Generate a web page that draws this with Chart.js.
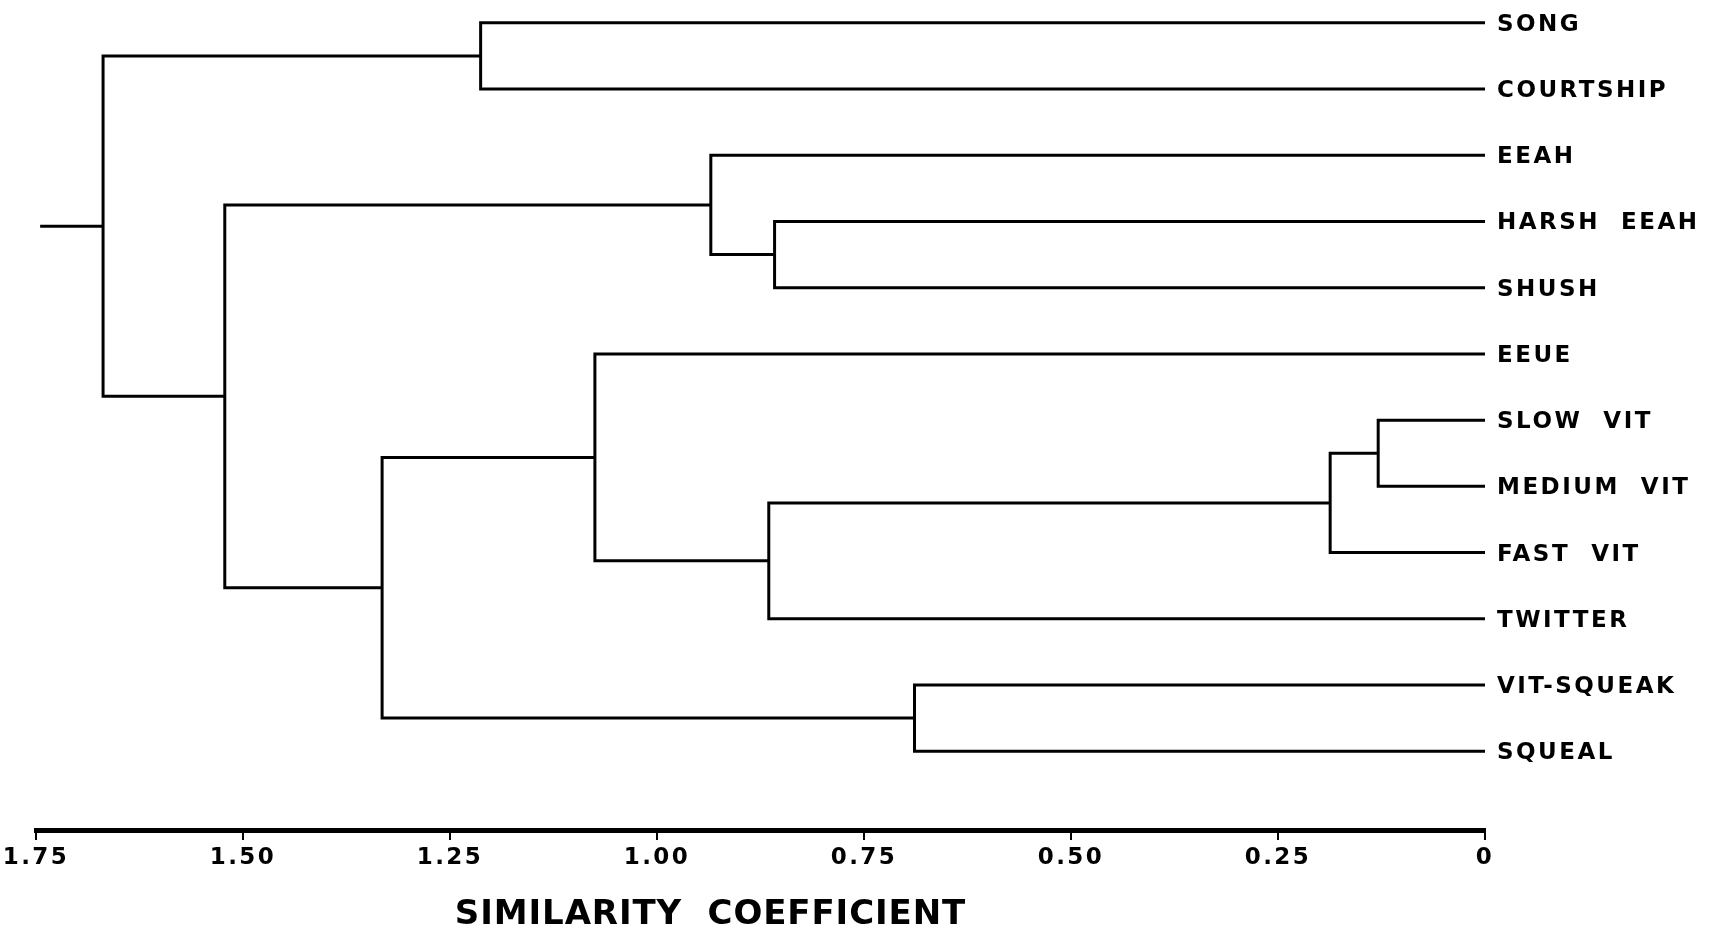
<!DOCTYPE html>
<html>
<head>
<meta charset="utf-8">
<script src="https://cdn.jsdelivr.net/npm/chart.js@4.4.1/dist/chart.umd.min.js"></script>
<style>
  html, body { margin: 0; padding: 0; background: #fff; }
</style>
</head>
<body>
<canvas id="dendro" width="1722" height="935"></canvas>
<script>
// leaves, top to bottom
const leafLabels = [
  "SONG", "COURTSHIP", "EEAH", "HARSH  EEAH", "SHUSH", "EEUE",
  "SLOW  VIT", "MEDIUM  VIT", "FAST  VIT", "TWITTER", "VIT-SQUEAK", "SQUEAL"
];

// merges, linkage style: ids 0-11 are leaves, merge i creates id 12 + i
const mergeLeft = [6, 12, 10, 3, 13, 2, 5, 0, 18, 17, 19];
const mergeRight = [7, 8, 11, 4, 9, 15, 16, 1, 14, 20, 21];
const mergeHeight = [0.129, 0.187, 0.689, 0.858, 0.865, 0.935, 1.075, 1.213, 1.332, 1.522, 1.669];
const rootStubEnd = 1.745;

const xTicks = [1.75, 1.5, 1.25, 1.0, 0.75, 0.5, 0.25, 0];
const axisTitle = "SIMILARITY  COEFFICIENT";

const nodeY = leafLabels.map((_, i) => i);
const nodeH = leafLabels.map(() => 0);

const datasets = [];
mergeHeight.forEach((h, i) => {
  const a = mergeLeft[i];
  const b = mergeRight[i];
  datasets.push({
    data: [
      { x: nodeH[a], y: nodeY[a] },
      { x: h, y: nodeY[a] },
      { x: h, y: nodeY[b] },
      { x: nodeH[b], y: nodeY[b] }
    ]
  });
  nodeY.push((nodeY[a] + nodeY[b]) / 2);
  nodeH.push(h);
});
const root = nodeY.length - 1;
datasets.push({
  data: [
    { x: nodeH[root], y: nodeY[root] },
    { x: rootStubEnd, y: nodeY[root] }
  ]
});
datasets.forEach((ds) => {
  ds.showLine = true;
  ds.borderColor = "#000";
  ds.borderWidth = 3;
  ds.pointRadius = 0;
  ds.borderJoinStyle = "miter";
  ds.fill = false;
});

const spacing = {
  id: "spacing",
  beforeDraw(chart) {
    chart.ctx.letterSpacing = "2.5px";
  }
};

const bottomTitle = {
  id: "bottomTitle",
  afterDraw(chart) {
    const ctx = chart.ctx;
    const area = chart.chartArea;
    ctx.save();
    ctx.letterSpacing = "0.9px";
    ctx.font = "bold 34px 'DejaVu Sans'";
    ctx.fillStyle = "#000";
    ctx.textAlign = "center";
    ctx.textBaseline = "middle";
    ctx.fillText(axisTitle, area.left + area.width * 0.4655, 915);
    ctx.restore();
  }
};

new Chart(document.getElementById("dendro"), {
  type: "scatter",
  data: { datasets: datasets },
  options: {
    responsive: false,
    animation: false,
    devicePixelRatio: 1,
    layout: { padding: { left: 36, top: 3, right: 0, bottom: 0 } },
    plugins: { legend: { display: false }, tooltip: { enabled: false } },
    scales: {
      x: {
        type: "linear",
        position: "bottom",
        reverse: true,
        min: 0,
        max: 1.75,
        afterBuildTicks: (scale) => {
          scale.ticks = xTicks.map((v) => ({ value: v }));
        },
        afterFit: (scale) => {
          scale.height = 105;
          scale.paddingLeft = 0;
          scale.paddingRight = 0;
        },
        ticks: {
          autoSkip: false,
          maxRotation: 0,
          padding: 4,
          color: "#000",
          font: { family: "'DejaVu Sans'", size: 23, weight: "bold" },
          callback: (v) => (v === 0 ? "0" : v.toFixed(2))
        },
        grid: {
          drawOnChartArea: false,
          drawTicks: true,
          tickLength: 10,
          color: "#000",
          lineWidth: 2
        },
        border: { display: true, width: 5, color: "#000" }
      },
      y: {
        type: "linear",
        position: "right",
        reverse: true,
        min: -0.3,
        max: 12.19,
        afterBuildTicks: (scale) => {
          scale.ticks = leafLabels.map((_, i) => ({ value: i }));
        },
        afterFit: (scale) => {
          scale.width = 237;
          scale.paddingTop = 0;
          scale.paddingBottom = 0;
        },
        ticks: {
          autoSkip: false,
          padding: 12,
          labelOffset: 2,
          color: "#000",
          font: { family: "'DejaVu Sans'", size: 23, weight: "bold" },
          callback: (v) => leafLabels[v]
        },
        grid: { display: false, drawTicks: false },
        border: { display: false }
      }
    }
  },
  plugins: [spacing, bottomTitle]
});
</script>
</body>
</html>
